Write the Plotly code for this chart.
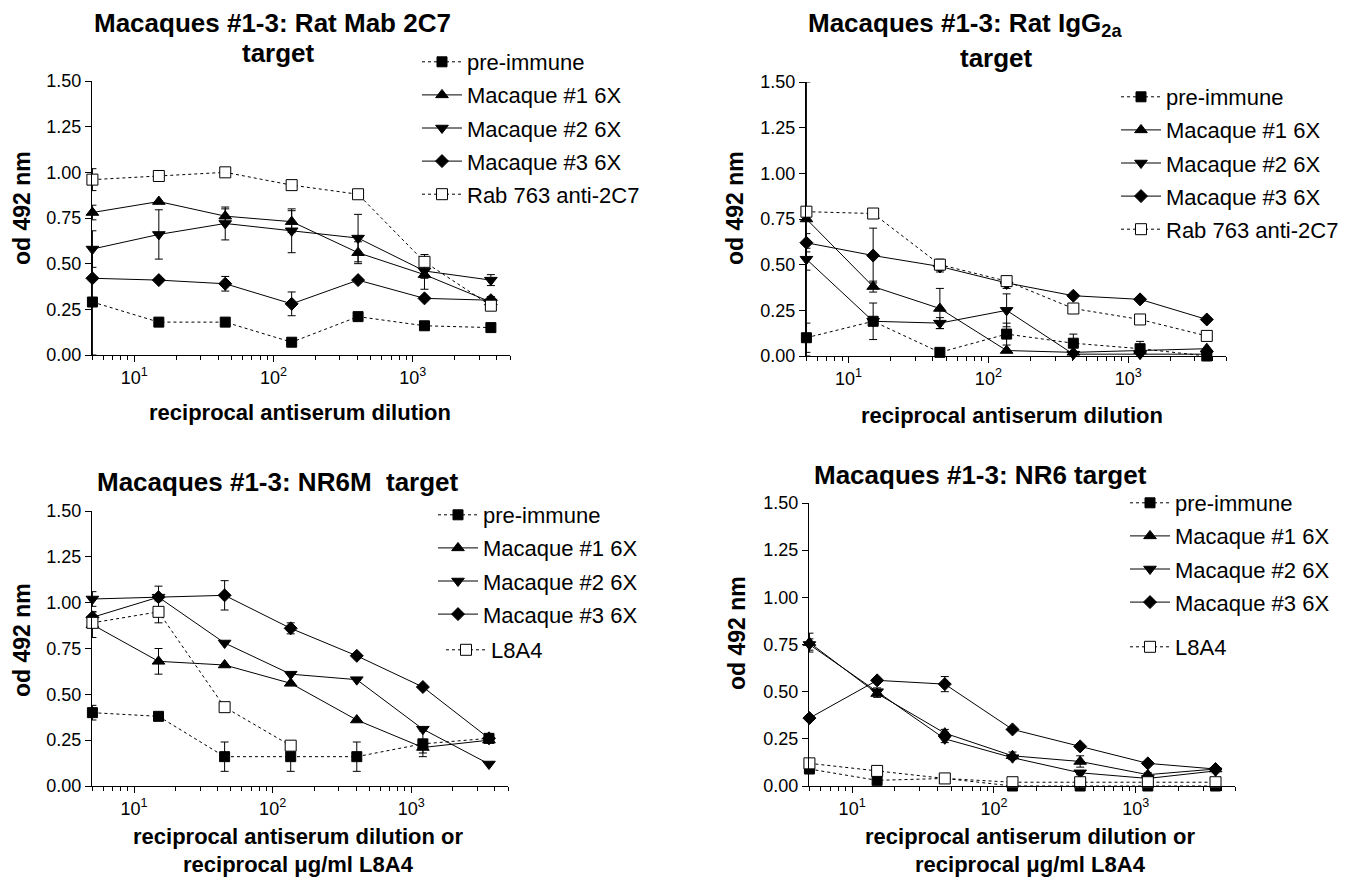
import plotly.graph_objects as go
import math

# ---------------- data ----------------
dilution = [5, 15, 45, 135, 405, 1215, 3645]

# Panel A: Rat Mab 2C7 target
a_pre = [0.29, 0.18, 0.18, 0.07, 0.21, 0.16, 0.15]
a_pre_err = [0.29, 0, 0, 0, 0, 0, 0]
a_m1 = [0.78, 0.84, 0.76, 0.73, 0.56, 0.44, 0.29]
a_m1_err = [0.04, 0, 0.04, 0.06, 0.06, 0.08, 0.03]
a_m2 = [0.58, 0.66, 0.72, 0.68, 0.64, 0.46, 0.41]
a_m2_err = [0.10, 0.135, 0.09, 0.12, 0.13, 0.04, 0.03]
a_m3 = [0.42, 0.41, 0.39, 0.28, 0.41, 0.31, 0.30]
a_m3_err = [0, 0, 0.04, 0.065, 0, 0, 0]
a_rab = [0.96, 0.98, 1.00, 0.93, 0.88, 0.51, 0.27]
a_rab_err = [0.06, 0, 0, 0, 0, 0.04, 0.02]

# Panel B: Rat IgG2a target
b_pre = [0.10, 0.19, 0.02, 0.12, 0.07, 0.04, 0.00]
b_pre_err = [0.08, 0.10, 0, 0.06, 0.05, 0.04, 0]
b_m1 = [0.75, 0.38, 0.26, 0.03, 0.02, 0.03, 0.04]
b_m1_err = [0.75, 0.03, 0.11, 0, 0, 0, 0]
b_m2 = [0.53, 0.19, 0.18, 0.25, 0.01, 0.01, 0.01]
b_m2_err = [0.06, 0, 0.03, 0.09, 0, 0, 0]
b_m3 = [0.62, 0.55, 0.49, 0.40, 0.33, 0.31, 0.20]
b_m3_err = [0.05, 0.15, 0.03, 0.03, 0, 0, 0]
b_rab = [0.79, 0.78, 0.50, 0.41, 0.26, 0.20, 0.11]
b_rab_err = [0, 0, 0.03, 0, 0, 0, 0.02]

# Panel C: NR6M target
c_pre = [0.40, 0.38, 0.16, 0.16, 0.16, 0.23, 0.26]
c_pre_err = [0.04, 0.02, 0.08, 0.08, 0.08, 0.07, 0.02]
c_m1 = [0.88, 0.68, 0.66, 0.56, 0.36, 0.21, 0.25]
c_m1_err = [0.07, 0.07, 0, 0, 0, 0.03, 0]
c_m2 = [1.02, 1.03, 0.78, 0.61, 0.58, 0.31, 0.12]
c_m2_err = [0.04, 0.06, 0, 0, 0, 0, 0]
c_m3 = [0.92, 1.03, 1.04, 0.86, 0.71, 0.54, 0.26]
c_m3_err = [0.03, 0, 0.08, 0.03, 0, 0, 0]
c_l8 = [0.89, 0.95, 0.43, 0.22, None, None, None]
c_l8_err = [0.02, 0.06, 0, 0, 0, 0, 0]

# Panel D: NR6 target
d_pre = [0.09, 0.03, 0.04, 0.00, 0.00, 0.00, 0.00]
d_pre_err = [0.02, 0, 0, 0, 0, 0, 0]
d_m1 = [0.76, 0.49, 0.28, 0.16, 0.13, 0.06, 0.09]
d_m1_err = [0.05, 0.02, 0.02, 0.02, 0.03, 0.01, 0.01]
d_m2 = [0.75, 0.50, 0.25, 0.15, 0.07, 0.04, 0.08]
d_m2_err = [0.03, 0.02, 0.02, 0.01, 0.01, 0.01, 0.01]
d_m3 = [0.36, 0.56, 0.54, 0.30, 0.21, 0.12, 0.09]
d_m3_err = [0, 0, 0.04, 0, 0, 0, 0]
d_l8 = [0.12, 0.08, 0.04, 0.02, 0.02, 0.02, 0.02]

y_ticks = [0, 0.25, 0.5, 0.75, 1.0, 1.25, 1.5]
y_ticktext = ["0.00", "0.25", "0.50", "0.75", "1.00", "1.25", "1.50"]
x_major = [10, 100, 1000]
x_major_text = ["10<sup>1</sup>", "10<sup>2</sup>", "10<sup>3</sup>"]
x_minor = [m * 10 ** k for k in range(0, 4) for m in range(2, 10) if 5 <= m * 10 ** k <= 5000]

FONT = "Liberation Sans, Arial, sans-serif"

styles = {
    "pre": dict(symbol="square", size=10, color="black", dash="dot"),
    "m1": dict(symbol="triangle-up", size=11, color="black", dash="solid"),
    "m2": dict(symbol="triangle-down", size=11, color="black", dash="solid"),
    "m3": dict(symbol="diamond", size=10, color="black", dash="solid"),
    "open": dict(symbol="square", size=11, color="white", dash="dot"),
}

fig = go.Figure()

panels = [
    ("", ["legend"] * 5, [
        ("pre-immune", a_pre, a_pre_err, "pre"),
        ("Macaque #1 6X", a_m1, a_m1_err, "m1"),
        ("Macaque #2 6X", a_m2, a_m2_err, "m2"),
        ("Macaque #3 6X", a_m3, a_m3_err, "m3"),
        ("Rab 763 anti-2C7", a_rab, a_rab_err, "open"),
    ]),
    ("2", ["legend2"] * 5, [
        ("pre-immune", b_pre, b_pre_err, "pre"),
        ("Macaque #1 6X", b_m1, b_m1_err, "m1"),
        ("Macaque #2 6X", b_m2, b_m2_err, "m2"),
        ("Macaque #3 6X", b_m3, b_m3_err, "m3"),
        ("Rab 763 anti-2C7", b_rab, b_rab_err, "open"),
    ]),
    ("3", ["legend3"] * 4 + ["legend5"], [
        ("pre-immune", c_pre, c_pre_err, "pre"),
        ("Macaque #1 6X", c_m1, c_m1_err, "m1"),
        ("Macaque #2 6X", c_m2, c_m2_err, "m2"),
        ("Macaque #3 6X", c_m3, c_m3_err, "m3"),
        ("L8A4", c_l8, c_l8_err, "open"),
    ]),
    ("4", ["legend4"] * 4 + ["legend6"], [
        ("pre-immune", d_pre, d_pre_err, "pre"),
        ("Macaque #1 6X", d_m1, d_m1_err, "m1"),
        ("Macaque #2 6X", d_m2, d_m2_err, "m2"),
        ("Macaque #3 6X", d_m3, d_m3_err, "m3"),
        ("L8A4", d_l8, [0] * 7, "open"),
    ]),
]

for suffix, legs, series in panels:
    for i, (name, ys, err, key) in enumerate(series):
        st = styles[key]
        fig.add_trace(go.Scatter(
            x=dilution, y=ys, name=name, mode="lines+markers",
            xaxis="x" + suffix, yaxis="y" + suffix,
            legend=legs[i], legendgroup=legs[i] + "_" + str(i),
            line=dict(color="black", width=1, dash=st["dash"]),
            marker=dict(symbol=st["symbol"], size=st["size"], color=st["color"],
                        line=dict(color="black", width=1)),
            error_y=dict(type="data", array=err, visible=True, color="black", thickness=1, width=4),
            cliponaxis=False, connectgaps=False,
        ))

# figure size (page has an 8px body margin, so the figure is 8px smaller than the window)
W, H = 1342, 872
doms = {
    "": ((84, 502), (73, 347)),
    "2": ((798, 1218), (74, 348)),
    "3": ((84, 500), (503, 778)),
    "4": ((801, 1227), (495, 778)),
}

layout = dict(
    width=W, height=H, paper_bgcolor="white", plot_bgcolor="white",
    margin=dict(l=0, r=0, t=0, b=0, pad=0, autoexpand=False),
    font=dict(family=FONT, color="black", size=18),
    showlegend=True,
)

for suffix, ((x0, x1), (y0, y1)) in doms.items():
    layout["xaxis" + suffix] = dict(
        domain=[x0 / W, x1 / W], type="log", range=[math.log10(5) - 0.003, math.log10(5000)],
        anchor="y" + suffix, showgrid=False, zeroline=False, automargin=False,
        showline=True, linecolor="black", linewidth=1,
        ticks="outside", ticklen=6, tickcolor="black", tickwidth=1,
        tickmode="array", tickvals=x_major, ticktext=x_major_text,
        tickfont=dict(size=18, family=FONT),
        minor=dict(tickmode="array", tickvals=x_minor, ticks="outside", ticklen=4,
                   tickcolor="black", showgrid=False),
    )
    layout["yaxis" + suffix] = dict(
        domain=[1 - y1 / H, 1 - y0 / H], range=[0, 1.5], anchor="x" + suffix,
        showgrid=False, zeroline=False, automargin=False,
        showline=True, linecolor="black", linewidth=1,
        ticks="outside", ticklen=6, tickcolor="black", tickwidth=1,
        tickmode="array", tickvals=y_ticks, ticktext=y_ticktext,
        tickfont=dict(size=18, family=FONT),
    )

leg_common = dict(
    font=dict(size=22, family=FONT), bgcolor="rgba(0,0,0,0)", borderwidth=0,
    itemwidth=40, tracegroupgap=1.5, xanchor="left", yanchor="top", orientation="v",
    itemclick=False, itemdoubleclick=False,
)
layout["legend"] = dict(leg_common, x=409 / W, y=1 - 33 / H)
layout["legend2"] = dict(leg_common, x=1108 / W, y=1 - 68 / H)
layout["legend3"] = dict(leg_common, x=425 / W, y=1 - 486 / H)
layout["legend4"] = dict(leg_common, x=1117 / W, y=1 - 474 / H)
layout["legend5"] = dict(leg_common, x=433 / W, y=1 - 621 / H)
layout["legend6"] = dict(leg_common, x=1117 / W, y=1 - 618 / H)

fig.update_layout(**layout)


def A(text, x, y, font, **kw):
    d = dict(text=text, x=x / W, y=1 - y / H, xref="paper", yref="paper", showarrow=False,
             font=font, xanchor="center", yanchor="middle", align="center")
    d.update(kw)
    return d


bold = dict(family=FONT, size=26, color="black")
ann = [
    A("<b>Macaques #1-3: Rat Mab 2C7</b>", 264, 15, bold),
    A("<b>target</b>", 270, 45, bold),
    A("<b>Macaques #1-3: Rat IgG<sub>2a</sub></b>", 957, 17, bold),
    A("<b>target</b>", 988, 50, bold),
    A("<b>Macaques #1-3: NR6M  target</b>", 270, 474, bold),
    A("<b>Macaques #1-3: NR6 target</b>", 972, 467, bold),
]
for xp, yc in [(14, 200), (727, 200), (14, 632), (729, 625)]:
    ann.append(A("<b>od 492 nm</b>", xp, yc, dict(family=FONT, size=23, color="black"), textangle=-90))
xt_font = dict(family=FONT, size=22, color="black")
ann += [
    A("<b>reciprocal antiserum dilution</b>", 292, 405, xt_font),
    A("<b>reciprocal antiserum dilution</b>", 1004, 407, xt_font),
    A("<b>reciprocal antiserum dilution or</b>", 290, 828, xt_font),
    A("<b>reciprocal \u03bcg/ml L8A4</b>", 290, 856, xt_font),
    A("<b>reciprocal antiserum dilution or</b>", 1022, 828, xt_font),
    A("<b>reciprocal \u03bcg/ml L8A4</b>", 1022, 856, xt_font),
]
fig.update_layout(annotations=ann)

fig.write_html("out.html")
